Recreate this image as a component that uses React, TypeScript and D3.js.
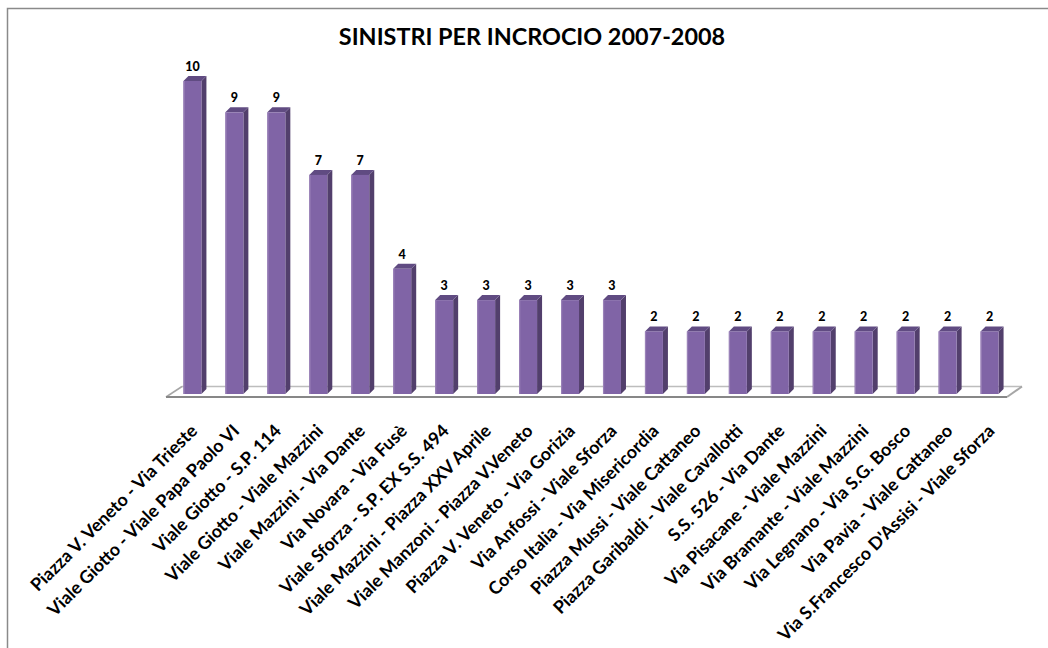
import React from "react";
import * as d3 from "d3";

const categories: string[] = [
  "Piazza V. Veneto - Via Trieste",
  "Viale Giotto - Viale Papa Paolo VI",
  "Viale Giotto - S.P. 114",
  "Viale Giotto - Viale Mazzini",
  "Viale Mazzini - Via Dante",
  "Via Novara - Via Fusè",
  "Viale Sforza - S.P. EX S.S. 494",
  "Viale Mazzini - Piazza XXV Aprile",
  "Viale Manzoni - Piazza V.Veneto",
  "Piazza V. Veneto - Via Gorizia",
  "Via Anfossi - Viale Sforza",
  "Corso Italia - Via Misericordia",
  "Piazza Mussi - Viale Cattaneo",
  "Piazza Garibaldi - Viale Cavallotti",
  "S.S. 526 - Via Dante",
  "Via Pisacane - Viale Mazzini",
  "Via Bramante - Viale Mazzini",
  "Via Legnano - Via S.G. Bosco",
  "Via Pavia - Viale Cattaneo",
  "Via S.Francesco D'Assisi - Viale Sforza",
];
const values: number[] = [10, 9, 9, 7, 7, 4, 3, 3, 3, 3, 3, 2, 2, 2, 2, 2, 2, 2, 2, 2];
const title = "SINISTRI PER INCROCIO 2007-2008";

const W = 1048;
const H = 648;
const FONT = "Lato, 'Open Sans', sans-serif";

export default function App() {
  const x = d3
    .scaleBand<string>()
    .domain(categories)
    .range([170, 1012])
    .paddingInner(0.571)
    .paddingOuter(0.32);
  const y = d3.scaleLinear().domain([0, 10]).range([394, 81]);
  const bw = x.bandwidth();
  const dx = 5;
  const dy = 5;
  const y0 = y(0);

  const fl = { fx0: 166, fx1: 1007, fy: 397, bx0: 182, bx1: 1022, by: 386.5 };

  return (
    <div style={{ position: "absolute", left: 0, top: 0 }}>
      <svg width={W} height={H} style={{ display: "block", background: "#fff" }}>
        <rect x={7.5} y={8.5} width={1200} height={800} fill="#fff" stroke="#8a8a8a" strokeWidth={1.5} />
        <text
          x={532}
          y={45}
          textAnchor="middle"
          fontFamily={FONT}
          fontWeight={700}
          fontSize={23.4}
          fill="#000"
        >
          {title}
        </text>

        <polygon
          points={`${fl.fx0},${fl.fy} ${fl.bx0},${fl.by} ${fl.bx1},${fl.by} ${fl.fx1},${fl.fy}`}
          fill="#fff"
          stroke="none"
        />
        <line x1={fl.bx0} y1={fl.by} x2={fl.bx1} y2={fl.by} stroke="#bdbdbd" strokeWidth={1.5} />
        <line x1={fl.fx0} y1={fl.fy} x2={fl.bx0} y2={fl.by} stroke="#a6a6a6" strokeWidth={1.5} />
        <line x1={fl.fx1} y1={fl.fy} x2={fl.bx1} y2={fl.by} stroke="#a6a6a6" strokeWidth={2} />
        <line x1={fl.fx0} y1={fl.fy} x2={fl.fx1} y2={fl.fy} stroke="#878787" strokeWidth={2} />

        {categories.map((c, i) => {
          const x0 = x(c) as number;
          const yt = y(values[i]);
          return (
            <g key={c}>
              <polygon
                points={`${x0 + bw},${yt} ${x0 + bw + dx},${yt - dy} ${x0 + bw + dx},${y0 - dy} ${x0 + bw},${y0}`}
                fill="#523f6c"
              />
              <polygon
                points={`${x0},${yt} ${x0 + dx},${yt - dy} ${x0 + bw + dx},${yt - dy} ${x0 + bw},${yt}`}
                fill="#604b82"
              />
              <rect x={x0} y={yt} width={bw} height={y0 - yt} fill="#8064a6" />
              <rect x={x0} y={yt} width={1.2} height={y0 - yt} fill="#9a82b8" />
              <text
                x={x0 + bw / 2}
                y={yt - 10}
                textAnchor="middle"
                fontFamily={FONT}
                fontWeight={900}
                fontSize={12.5}
                fill="#000"
              >
                {values[i]}
              </text>
            </g>
          );
        })}

        {categories.map((c) => {
          const ax = (x(c) as number) + bw / 2 + 6;
          const ay = 432;
          return (
            <text
              key={"l" + c}
              transform={`translate(${ax},${ay}) rotate(-45)`}
              textAnchor="end"
              fontFamily={FONT}
              fontWeight={700}
              fontSize={17.8}
              fill="#000"
            >
              {c}
            </text>
          );
        })}
      </svg>
    </div>
  );
}
